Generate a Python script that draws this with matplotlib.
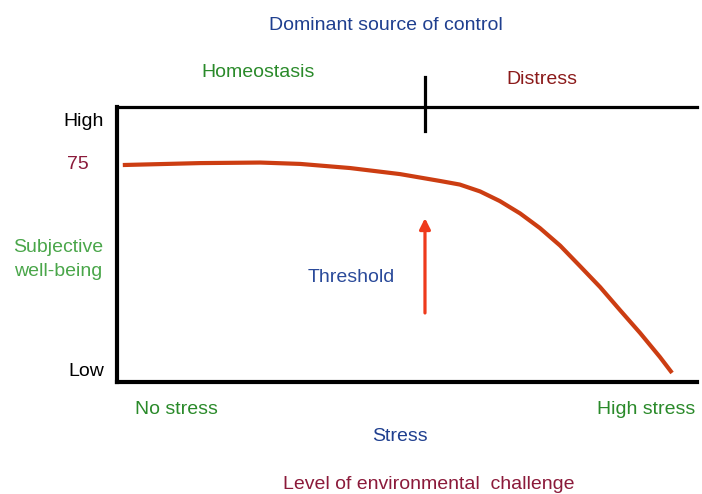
import matplotlib.pyplot as plt

# Liberation Sans ~ Arial look of the original slide
plt.rcParams['font.family'] = ['Liberation Sans', 'DejaVu Sans']

# curve (stress 0-100, well-being 0-100)
stress = [1.0, 14.3, 24.7, 31.6, 40.2, 48.8, 55.7, 59.1, 62.6, 66.0, 69.5,
          72.9, 76.4, 79.8, 83.3, 86.7, 90.2, 93.6, 95.7]
wellbeing = [78.9, 79.6, 79.8, 79.3, 77.8, 75.6, 73.1, 71.8, 69.3, 65.8, 61.3,
             56.0, 49.6, 42.2, 34.5, 26.2, 17.8, 9.1, 3.3]

# threshold marker
threshold_x = 53.1
arrow_from = 25.1
arrow_to = 59.6
divider_y = [91.3, 110.9]

fig = plt.figure(figsize=(7.02, 4.94), dpi=100)
ax = fig.add_axes([117 / 702, 1 - 382 / 494, 580 / 702, 275 / 494])
ax.set_xlim(0, 100)
ax.set_ylim(0, 100)
ax.set_xticks([])
ax.set_yticks([])
ax.spines['right'].set_visible(False)
ax.spines['left'].set_linewidth(3)
ax.spines['bottom'].set_linewidth(3)
ax.spines['top'].set_linewidth(2.3)

# well-being curve
ax.plot(stress, wellbeing, color='#cc3d12', lw=3, solid_capstyle='butt',
        solid_joinstyle='round')

# threshold arrow
ax.annotate('', xy=(threshold_x, arrow_to), xytext=(threshold_x, arrow_from),
            arrowprops=dict(arrowstyle='-|>', color='#ee3a1c', lw=2.3,
                            mutation_scale=16, shrinkA=0, shrinkB=0))

# divider tick on top line
ax.plot([threshold_x, threshold_x], divider_y, color='black', lw=2.3, clip_on=False)


def label(x, y, s, color, ha='center', size=14):
    fig.text(x / 702, 1 - y / 494, s, color=color, ha=ha, va='center', fontsize=size)


blue = '#1f3f8f'
green = '#2a8a2a'
maroon = '#8b1a3a'

label(386, 25, 'Dominant source of control', blue)
label(258, 72, 'Homeostasis', green)
label(542, 79, 'Distress', '#8b1a1a')
label(104, 122, 'High', 'black', ha='right')
label(78, 164, '75', maroon)
label(58, 247, 'Subjective', '#4aa64a')
label(58, 272, 'well-being', '#4aa64a')
label(104, 371, 'Low', 'black', ha='right')
label(351, 278, 'Threshold', '#2a4a9a')
label(135, 410, 'No stress', green, ha='left')
label(695, 410, 'High stress', green, ha='right')
label(400, 436, 'Stress', blue)
label(429, 484, 'Level of environmental  challenge', maroon)

fig.savefig('out.png', dpi=100)
